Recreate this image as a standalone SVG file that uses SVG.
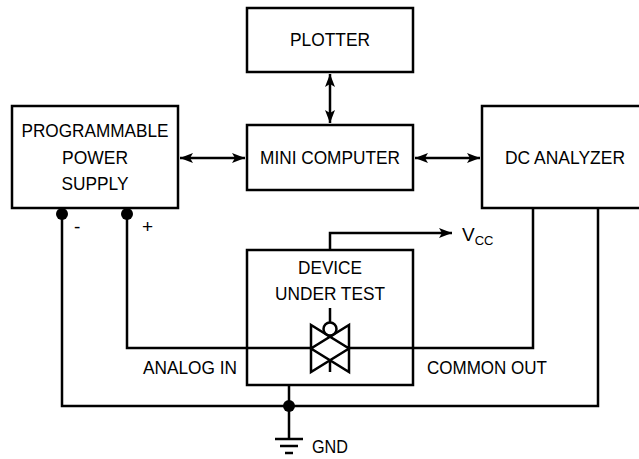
<svg xmlns="http://www.w3.org/2000/svg" width="639" height="459" viewBox="0 0 639 459">
<defs>
<marker id="ah" viewBox="0 0 13 10" refX="13" refY="5" markerWidth="13" markerHeight="10" markerUnits="userSpaceOnUse" orient="auto-start-reverse">
<path d="M0,0 L13,5 L0,10 L3,5 Z" fill="#000"/>
</marker>
</defs>
<style>
.box{fill:#fff;stroke:#000;stroke-width:2.5}
.w{fill:none;stroke:#000;stroke-width:2.5}
.t{font-family:"Liberation Sans",Arial,sans-serif;font-size:19px;fill:#000}
.c{text-anchor:middle}
.dot{fill:#000}
</style>
<rect width="639" height="459" fill="#fff"/>
<g id="connectors">
<line class="w" x1="330" y1="74" x2="330" y2="123" marker-start="url(#ah)" marker-end="url(#ah)"/>
<line class="w" x1="180" y1="158" x2="245" y2="158" marker-start="url(#ah)" marker-end="url(#ah)"/>
<line class="w" x1="415" y1="158" x2="480" y2="158" marker-start="url(#ah)" marker-end="url(#ah)"/>
<polyline class="w" points="330,250 330,233 452,233" marker-end="url(#ah)"/>
<polyline class="w" points="127,214 127,348 311,348"/>
<polyline class="w" points="349,348 533,348 533,208"/>
<polyline class="w" points="62,214 62,406 598,406 598,208"/>
<line class="w" x1="289" y1="385" x2="289" y2="439"/>
</g>
<g id="power-supply">
<rect class="box" x="12" y="106" width="166" height="102"/>
<text class="t c" x="95" y="137" textLength="147" lengthAdjust="spacingAndGlyphs">PROGRAMMABLE</text>
<text class="t c" x="95" y="164" textLength="66" lengthAdjust="spacingAndGlyphs">POWER</text>
<text class="t c" x="95" y="190" textLength="67" lengthAdjust="spacingAndGlyphs">SUPPLY</text>
<circle class="dot" cx="62" cy="214" r="6"/>
<circle class="dot" cx="127" cy="214" r="6"/>
<text class="t" x="74" y="233">-</text>
<text class="t" x="142" y="233">+</text>
</g>
<g id="plotter">
<rect class="box" x="247" y="8" width="166" height="64"/>
<text class="t c" x="330" y="46" textLength="80" lengthAdjust="spacingAndGlyphs">PLOTTER</text>
</g>
<g id="mini-computer">
<rect class="box" x="247" y="125" width="166" height="65"/>
<text class="t c" x="330" y="164" textLength="140" lengthAdjust="spacingAndGlyphs">MINI COMPUTER</text>
</g>
<g id="dc-analyzer">
<rect class="box" x="482" y="106" width="170" height="102"/>
<text class="t c" x="565" y="164" textLength="120" lengthAdjust="spacingAndGlyphs">DC ANALYZER</text>
</g>
<g id="vcc">
<text class="t" x="462" y="241">V<tspan font-size="13" dy="4">CC</tspan></text>
</g>
<g id="dut">
<rect class="box" x="247" y="250" width="166" height="135"/>
<text class="t c" x="330" y="274" textLength="64" lengthAdjust="spacingAndGlyphs">DEVICE</text>
<text class="t c" x="330" y="300" textLength="110" lengthAdjust="spacingAndGlyphs">UNDER TEST</text>
<line class="w" x1="247" y1="348" x2="311" y2="348"/>
<line class="w" x1="349" y1="348" x2="413" y2="348"/>
<path class="w" d="M311,325 L311,372 L349,348.5 Z M349,325 L349,372 L311,348.5 Z"/>
<circle class="w" cx="330" cy="329" r="6.5" fill="#fff"/>
<line class="w" x1="330" y1="308" x2="330" y2="322.5"/>
<line class="w" x1="330" y1="360" x2="330" y2="372"/>
</g>
<g id="labels">
<text class="t" x="237" y="374" text-anchor="end" textLength="94" lengthAdjust="spacingAndGlyphs">ANALOG IN</text>
<text class="t" x="427" y="374" textLength="120" lengthAdjust="spacingAndGlyphs">COMMON OUT</text>
</g>
<g id="gnd">
<circle class="dot" cx="289" cy="406" r="6"/>
<line class="w" x1="275" y1="439" x2="303" y2="439"/>
<line class="w" x1="280" y1="446" x2="298" y2="446"/>
<line class="w" x1="285" y1="453" x2="293" y2="453"/>
<text class="t" x="312" y="453" textLength="36" lengthAdjust="spacingAndGlyphs">GND</text>
</g>
</svg>
